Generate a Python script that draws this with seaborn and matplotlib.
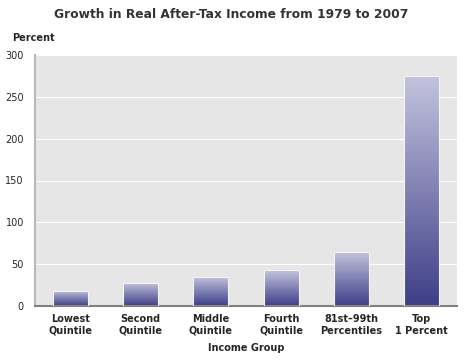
import numpy as np
import pandas as pd
import matplotlib
matplotlib.use('Agg')
import matplotlib.pyplot as plt
import seaborn as sns
from matplotlib.colors import LinearSegmentedColormap

groups = ['Lowest\nQuintile', 'Second\nQuintile', 'Middle\nQuintile',
          'Fourth\nQuintile', '81st\u201399th\nPercentiles', 'Top\n1 Percent']
growth = [18, 28, 35, 43, 65, 275]
yticks = [0, 50, 100, 150, 200, 250, 300]

df = pd.DataFrame({'group': groups, 'growth': growth})

sns.set_style('white')
plt.rcParams['font.family'] = ['DejaVu Sans']

fig = plt.figure(figsize=(4.69, 3.64), dpi=100)
ax = fig.add_axes([35 / 469, 58 / 364, 422 / 469, 251 / 364])
ax.set_facecolor('#e6e6e6')

sns.barplot(data=df, x='group', y='growth', color='#6a6aa8', width=0.5,
            ax=ax, zorder=2)

# gradient fill on each bar
cmap = LinearSegmentedColormap.from_list('grad', ['#3e3e88', '#c4c4de'])
grad = np.linspace(0, 1, 256).reshape(-1, 1)
for patch in ax.patches:
    x0, y0 = patch.get_x(), patch.get_y()
    w, h = patch.get_width(), patch.get_height()
    patch.set_facecolor('none')
    patch.set_edgecolor('#f4f4f8')
    patch.set_linewidth(0.8)
    patch.set_zorder(3)
    im = ax.imshow(grad, cmap=cmap, aspect='auto', origin='lower',
                   extent=[x0, x0 + w, y0, y0 + h], zorder=2.5)
    im.set_clip_path(patch)

ax.set_xlim(-0.5, 5.5)
ax.set_ylim(0, 300)
ax.set_yticks(yticks)
ax.grid(axis='y', color='white', linewidth=0.8, zorder=0)
ax.set_axisbelow(True)

for s in ['top', 'right']:
    ax.spines[s].set_visible(False)
ax.spines['left'].set_color('#b8b8b8')
ax.spines['left'].set_linewidth(1.5)
ax.spines['bottom'].set_color('#808080')
ax.spines['bottom'].set_linewidth(1.5)

ax.tick_params(axis='y', length=4, direction='in', color='#808080',
               labelsize=7, pad=8)
ax.tick_params(axis='x', length=0, labelsize=7, pad=6)
for lbl in ax.get_xticklabels():
    lbl.set_fontweight('bold')

ax.set_xlabel('Income Group', fontsize=7, fontweight='bold', labelpad=5)
ax.set_ylabel('')

fig.text(12 / 469, 1 - 38 / 364, 'Percent', fontsize=7, fontweight='bold',
         va='center', ha='left')
fig.suptitle('Growth in Real After-Tax Income from 1979 to 2007',
             x=231 / 469, y=1 - 14 / 364, fontsize=8.8, fontweight='bold',
             color='#333333', va='center')

fig.savefig('out.png', dpi=100)
